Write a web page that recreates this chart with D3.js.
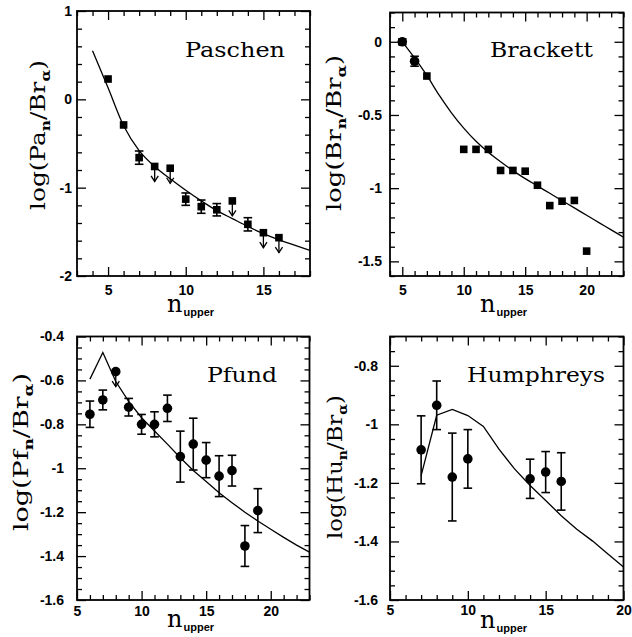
<!DOCTYPE html>
<html><head><meta charset="utf-8">
<script src="https://cdn.jsdelivr.net/npm/d3@7"></script>
<style>body{margin:0;background:#fff}svg{display:block}</style>
</head><body>
<svg id="c" width="632" height="637"></svg>
<script>
// ---------- DATA ----------
// Paschen
const pasN      = [5, 6, 7, 8, 9, 10, 11, 12, 13, 14, 15, 16];
const pasVal    = [0.23, -0.29, -0.66, -0.76, -0.78, -1.13, -1.215, -1.25, -1.15, -1.415, -1.51, -1.566];
const pasErr    = [0, 0, 0.075, 0, 0, 0.07, 0.075, 0.07, 0, 0.075, 0, 0];
const pasLimit  = [0, 0, 0, 1, 1, 0, 0, 0, 1, 0, 1, 1];
const pasModelN = [4, 5, 6, 7, 8, 9, 10, 11, 12, 13, 14, 15, 16, 17, 18];
const pasModel  = [0.55, 0.13, -0.30, -0.58, -0.76, -0.90, -1.03, -1.15, -1.26, -1.35, -1.44, -1.52, -1.59, -1.65, -1.71];

// Brackett
const brN       = [5, 6, 7, 10, 11, 12, 13, 14, 15, 16, 17, 18, 19, 20];
const brVal     = [0, -0.133, -0.234, -0.735, -0.735, -0.735, -0.879, -0.879, -0.884, -0.98, -1.119, -1.089, -1.084, -1.43];
const brErr     = [0.02, 0.034, 0, 0, 0, 0, 0, 0, 0, 0, 0, 0, 0, 0];
const brShape   = ["circle", "circle", "square", "square", "square", "square", "square", "square", "square", "square", "square", "square", "square", "square"];
const brModelN  = [5, 6, 7, 8, 9, 10, 11, 12, 13, 14, 15, 16, 17, 18, 19, 20, 21, 22, 23];
const brModel   = [0, -0.11, -0.23, -0.365, -0.485, -0.59, -0.68, -0.755, -0.82, -0.88, -0.935, -0.985, -1.035, -1.085, -1.135, -1.185, -1.235, -1.285, -1.335];

// Pfund
const pfN       = [6, 7, 8, 9, 10, 11, 12, 13, 14, 15, 16, 17, 18, 19];
const pfVal     = [-0.754, -0.689, -0.56, -0.722, -0.80, -0.80, -0.727, -0.947, -0.890, -0.963, -1.036, -1.011, -1.354, -1.193];
const pfErr     = [0.06, 0.045, 0, 0.04, 0.045, 0.057, 0.06, 0.116, 0.118, 0.08, 0.093, 0.07, 0.093, 0.1];
const pfLimit   = [0, 0, 1, 0, 0, 0, 0, 0, 0, 0, 0, 0, 0, 0];
const pfModelN  = [6, 7, 8, 9, 10, 11, 12, 13, 14, 15, 16, 17, 18, 19, 20, 21, 22, 23];
const pfModel   = [-0.594, -0.473, -0.605, -0.695, -0.77, -0.83, -0.89, -0.952, -1.01, -1.06, -1.112, -1.157, -1.2, -1.24, -1.278, -1.315, -1.35, -1.382];

// Humphreys
const huN       = [7, 8, 9, 10, 14, 15, 16];
const huVal     = [-1.087, -0.935, -1.18, -1.118, -1.186, -1.163, -1.195];
const huErr     = [0.116, 0.083, 0.15, 0.10, 0.067, 0.07, 0.098];
const huModelN  = [7, 8, 9, 10, 11, 12, 13, 14, 15, 16, 17, 18, 19, 20];
const huModel   = [-1.175, -0.969, -0.949, -0.97, -1.007, -1.085, -1.152, -1.209, -1.26, -1.312, -1.358, -1.398, -1.443, -1.487];

// Tick values
const pasXTicks = [5, 10, 15],      pasYTicks = [-2, -1, 0, 1];
const brXTicks  = [5, 10, 15, 20],  brYTicks  = [-1.5, -1, -0.5, 0];
const pfXTicks  = [5, 10, 15, 20],  pfYTicks  = [-1.6, -1.4, -1.2, -1, -0.8, -0.6, -0.4];
const huXTicks  = [5, 10, 15, 20],  huYTicks  = [-1.6, -1.4, -1.2, -1, -0.8];

// ---------- LAYOUT ----------
const panels = [
  { name: "Paschen", sym: "Pa", left: 77, right: 310, top: 11, bottom: 276,
    xDom: [3, 18], yDom: [-2, 1], xT: pasXTicks, yT: pasYTicks, yMinor: 0.2,
    xPad: 9, yPad: 5, title: [185, 57, 100],
    yTitle: [45, 135, 150], xTitle: [167, 312],
    n: pasN, v: pasVal, e: pasErr, lim: pasLimit, shape: pasN.map(() => "square"),
    mN: pasModelN, m: pasModel, curve: d3.curveMonotoneX },
  { name: "Brackett", sym: "Br", left: 390, right: 623.5, top: 12.5, bottom: 276,
    xDom: [4, 23], yDom: [-1.6, 0.2], xT: brXTicks, yT: brYTicks, yMinor: 0.1,
    xPad: 9, yPad: 8, title: [490, 57, 103],
    yTitle: [341, 133, 156], xTitle: [480, 312],
    n: brN, v: brVal, e: brErr, lim: brN.map(() => 0), shape: brShape,
    mN: brModelN, m: brModel, curve: d3.curveMonotoneX },
  { name: "Pfund", sym: "Pf", left: 77, right: 309.5, top: 336.5, bottom: 600,
    xDom: [5, 23], yDom: [-1.6, -0.4], xT: pfXTicks, yT: pfYTicks, yMinor: 0.05,
    xPad: 6, yPad: 13, title: [207, 382, 70],
    yTitle: [28, 452, 158], xTitle: [167, 627],
    n: pfN, v: pfVal, e: pfErr, lim: pfLimit, shape: pfN.map(() => "circle"),
    mN: pfModelN, m: pfModel, curve: d3.curveLinear },
  { name: "Humphreys", sym: "Hu", left: 390, right: 623.5, top: 336.5, bottom: 600,
    xDom: [5, 20], yDom: [-1.6, -0.7], xT: huXTicks, yT: huYTicks, yMinor: 0.05,
    xPad: 5, yPad: 12, title: [467, 382, 138],
    yTitle: [342, 467, 144], xTitle: [480, 628],
    n: huN, v: huVal, e: huErr, lim: huN.map(() => 0), shape: huN.map(() => "circle"),
    mN: huModelN, m: huModel, curve: d3.curveLinear }
];

const svg = d3.select("#c");
const fmt = v => String(+v.toFixed(2));
const MAJ = 9, MIN = 5;

function minorVals(dom, step, majors) {
  const lo = Math.ceil(dom[0] / step - 1e-6), hi = Math.floor(dom[1] / step + 1e-6);
  return d3.range(lo, hi + 1).map(i => +(i * step).toFixed(4))
    .filter(v => !majors.some(m => Math.abs(m - v) < 1e-6));
}

function styleAxis(sel, labels) {
  sel.select(".domain").remove();
  sel.selectAll(".tick line").attr("stroke", "#000").attr("stroke-width", 1.3);
  sel.attr("font-family", "'Liberation Sans', Arial, sans-serif")
     .attr("font-size", 14).attr("font-weight", "bold");
  sel.selectAll(".tick text").attr("fill", "#000");
  if (!labels) sel.selectAll(".tick text").remove();
}

panels.forEach(p => {
  const x = d3.scaleLinear().domain(p.xDom).range([p.left, p.right]);
  const y = d3.scaleLinear().domain(p.yDom).range([p.bottom, p.top]);
  const g = svg.append("g");

  const xMinor = minorVals(p.xDom, 1, p.xT);
  const yMinor = minorVals(p.yDom, p.yMinor, p.yT);

  // bottom
  g.append("g").attr("transform", `translate(0,${p.bottom})`)
    .call(d3.axisBottom(x).tickValues(p.xT).tickSize(-MAJ).tickPadding(p.xPad).tickFormat(fmt))
    .call(s => styleAxis(s, true));
  g.append("g").attr("transform", `translate(0,${p.bottom})`)
    .call(d3.axisBottom(x).tickValues(xMinor).tickSize(-MIN).tickFormat(""))
    .call(s => styleAxis(s, false));
  // top
  g.append("g").attr("transform", `translate(0,${p.top})`)
    .call(d3.axisTop(x).tickValues(p.xT).tickSize(-MAJ).tickFormat(""))
    .call(s => styleAxis(s, false));
  g.append("g").attr("transform", `translate(0,${p.top})`)
    .call(d3.axisTop(x).tickValues(xMinor).tickSize(-MIN).tickFormat(""))
    .call(s => styleAxis(s, false));
  // left
  g.append("g").attr("transform", `translate(${p.left},0)`)
    .call(d3.axisLeft(y).tickValues(p.yT).tickSize(-MAJ).tickPadding(p.yPad).tickFormat(fmt))
    .call(s => styleAxis(s, true));
  g.append("g").attr("transform", `translate(${p.left},0)`)
    .call(d3.axisLeft(y).tickValues(yMinor).tickSize(-MIN).tickFormat(""))
    .call(s => styleAxis(s, false));
  // right
  g.append("g").attr("transform", `translate(${p.right},0)`)
    .call(d3.axisRight(y).tickValues(p.yT).tickSize(-MAJ).tickFormat(""))
    .call(s => styleAxis(s, false));
  g.append("g").attr("transform", `translate(${p.right},0)`)
    .call(d3.axisRight(y).tickValues(yMinor).tickSize(-MIN).tickFormat(""))
    .call(s => styleAxis(s, false));

  // frame
  g.append("rect").attr("x", p.left).attr("y", p.top)
    .attr("width", p.right - p.left).attr("height", p.bottom - p.top)
    .attr("fill", "none").attr("stroke", "#000").attr("stroke-width", 1.8);

  // model curve
  const line = d3.line().x(d => x(d[0])).y(d => y(d[1])).curve(p.curve);
  g.append("path").datum(p.mN.map((n, i) => [n, p.m[i]]))
    .attr("d", line).attr("fill", "none").attr("stroke", "#000").attr("stroke-width", 1.3);

  // data
  const pts = p.n.map((n, i) => ({ n, v: p.v[i], e: p.e[i], lim: p.lim[i], shape: p.shape[i] }));
  const eb = g.append("g").attr("stroke", "#000").attr("stroke-width", 1.6);
  pts.filter(d => d.e > 0).forEach(d => {
    const cx = x(d.n), y1 = y(d.v + d.e), y2 = y(d.v - d.e);
    eb.append("line").attr("x1", cx).attr("x2", cx).attr("y1", y1).attr("y2", y2);
    eb.append("line").attr("x1", cx - 4.3).attr("x2", cx + 4.3).attr("y1", y1).attr("y2", y1);
    eb.append("line").attr("x1", cx - 4.3).attr("x2", cx + 4.3).attr("y1", y2).attr("y2", y2);
  });
  pts.filter(d => d.lim).forEach(d => {
    const cx = x(d.n), cy = y(d.v), tip = cy + 15;
    eb.append("line").attr("x1", cx).attr("x2", cx).attr("y1", cy).attr("y2", tip).attr("stroke-width", 1.3);
    eb.append("path").attr("d", `M${cx - 3.6},${tip - 5.5}L${cx},${tip}L${cx + 3.6},${tip - 5.5}`)
      .attr("fill", "none").attr("stroke-width", 1.3);
  });
  pts.forEach(d => {
    const cx = x(d.n), cy = y(d.v);
    if (d.shape === "square") {
      g.append("rect").attr("x", cx - 3.8).attr("y", cy - 3.8).attr("width", 7.6).attr("height", 7.6).attr("fill", "#000");
    } else {
      g.append("circle").attr("cx", cx).attr("cy", cy).attr("r", 4.8).attr("fill", "#000");
    }
  });

  // panel title
  g.append("text").attr("x", p.title[0]).attr("y", p.title[1])
    .attr("font-family", "'DejaVu Serif', serif").attr("font-size", 20.5)
    .attr("textLength", p.title[2]).attr("lengthAdjust", "spacingAndGlyphs")
    .text(p.name);

  // y title
  const yt = g.append("text")
    .attr("transform", `translate(${p.yTitle[0]},${p.yTitle[1]}) rotate(-90)`)
    .attr("text-anchor", "middle")
    .attr("font-family", "'DejaVu Serif', serif").attr("font-size", 21)
    .attr("textLength", p.yTitle[2]).attr("lengthAdjust", "spacingAndGlyphs");
  yt.append("tspan").text("log(" + p.sym);
  yt.append("tspan").attr("dy", 5).attr("font-size", 13).attr("font-weight", "bold").text("n");
  yt.append("tspan").attr("dy", -5).text("/Br");
  yt.append("tspan").attr("dy", 5).attr("font-size", 13).attr("font-weight", "bold").text("α");
  yt.append("tspan").attr("dy", -5).text(")");

  // x title
  const xt = g.append("text").attr("x", p.xTitle[0]).attr("y", p.xTitle[1]);
  xt.append("tspan").attr("font-family", "'DejaVu Serif', serif").attr("font-size", 24).text("n");
  xt.append("tspan").attr("dy", 4).attr("dx", 1)
    .attr("font-family", "'Liberation Sans', Arial, sans-serif").attr("font-weight", "bold")
    .attr("font-size", 11).text("upper");
});
</script>
</body></html>
